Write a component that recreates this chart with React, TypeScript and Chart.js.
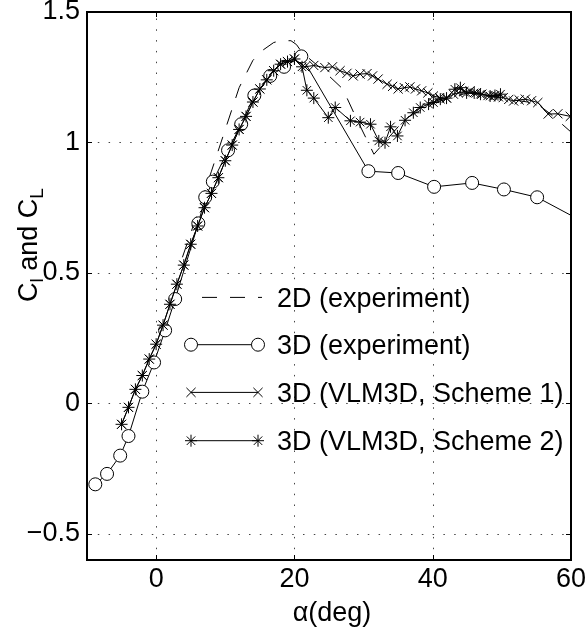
import React, { useEffect, useRef } from 'react';
import { Chart, registerables } from 'chart.js';

Chart.register(...registerables);

// ---------- data ----------
const alpha2D = [3.8, 6, 8, 10, 12, 14, 15.5, 17, 18, 19.5, 20.3, 21.1, 24, 27, 29, 31.5, 33, 36, 40, 45, 50, 55, 57, 60];
const cl2D = [0.56, 0.73, 0.89, 1.05, 1.21, 1.315, 1.355, 1.383, 1.39, 1.39, 1.375, 1.345, 1.28, 1.205, 1.09, 0.955, 1.0, 1.09, 1.15, 1.19, 1.17, 1.15, 1.11, 1.04];

const alpha3DExp = [-8.8, -7.1, -5.2, -4.0, -2.0, -0.3, 1.3, 2.75, 6.1, 7.1, 8.2, 10.4, 12.3, 14.2, 16.5, 18.5, 21.0, 30.7, 35, 40.2, 45.7, 50.3, 55.1, 65];
const cl3DExp = [-0.31, -0.27, -0.2, -0.125, 0.045, 0.157, 0.28, 0.4, 0.69, 0.79, 0.85, 0.97, 1.07, 1.18, 1.255, 1.29, 1.33, 0.89, 0.883, 0.83, 0.845, 0.82, 0.79, 0.65];

const alphaScheme1 = [-5, -4, -3, -2, -1, 0, 1, 2, 3, 4, 5, 6, 7, 8, 9, 10, 11, 12, 13, 14, 15, 16, 17, 18, 19, 20,
  21.5, 22.8, 24.4, 25.5, 26.6, 27.6, 28.5, 29.5, 30.5, 31.3, 32.1, 33.4, 34.2, 35, 35.9, 36.7, 37.5, 38.4, 39.3, 40.1,
  41, 42, 43, 43.7, 44.5, 45.4, 46.3, 47.1, 48, 48.8, 49.5, 50.2, 51, 51.7, 52.5, 53.4, 54.3, 55.2, 56.7, 58.1, 59.9, 61.2];
const clScheme1 = [-0.08, -0.015, 0.054, 0.107, 0.17, 0.227, 0.3, 0.38, 0.457, 0.53, 0.61, 0.68, 0.75, 0.805, 0.865, 0.93, 0.99, 1.05, 1.1, 1.155, 1.205, 1.24, 1.275, 1.3, 1.31, 1.32,
  1.29, 1.295, 1.287, 1.29, 1.275, 1.265, 1.255, 1.262, 1.264, 1.255, 1.243, 1.223, 1.215, 1.205, 1.21, 1.213, 1.205, 1.198, 1.19, 1.178,
  1.172, 1.17, 1.185, 1.19, 1.195, 1.198, 1.19, 1.185, 1.18, 1.178, 1.175, 1.172, 1.165, 1.159, 1.163, 1.166, 1.16, 1.153, 1.109, 1.11, 1.1, 1.09];

const alphaScheme2 = [-5, -4, -3, -2, -1, 0, 1, 2, 3, 4, 5, 6, 7, 8, 9, 10, 11, 12, 13, 14, 15, 16, 17, 18, 19, 20,
  21.1, 21.8, 22.8, 24.9, 25.9, 28.1, 29.5, 31, 32.2, 33.1, 33.9, 34.9, 36, 37.2, 38.2, 39.4, 40.1, 41.1, 42, 43.2, 44, 44.9, 46, 46.9, 48.3, 49, 49.8];
const clScheme2 = [-0.08, -0.015, 0.054, 0.107, 0.17, 0.227, 0.3, 0.38, 0.457, 0.53, 0.61, 0.68, 0.75, 0.805, 0.865, 0.93, 0.99, 1.05, 1.1, 1.155, 1.205, 1.24, 1.275, 1.3, 1.31, 1.32,
  1.29, 1.2, 1.17, 1.095, 1.134, 1.083, 1.078, 1.07, 1.006, 0.999, 1.06, 1.025, 1.085, 1.114, 1.134, 1.147, 1.153, 1.166, 1.17, 1.204, 1.21, 1.19, 1.19, 1.185, 1.178, 1.18, 1.185];

const seriesLabels = ['2D (experiment)', '3D (experiment)', '3D (VLM3D, Scheme 1)', '3D (VLM3D, Scheme 2)'];
const xTicks = [0, 20, 40, 60];
const yTicks = [-0.5, 0, 0.5, 1, 1.5];
const xRange = [-10, 60];
const yRange = [-0.6, 1.5];
const xTitle = 'α(deg)';
// y title pieces: [text, isSubscript]
const yTitleParts: [string, boolean][] = [['C', false], ['l', true], [' and C', false], ['L', true]];

const FONT = '"Liberation Sans", Arial, Helvetica, sans-serif';
const FS = 27;

const toPts = (xs: number[], ys: number[]) => xs.map((x, i) => ({ x, y: ys[i] }));

function drawMarker(ctx: CanvasRenderingContext2D, style: string, x: number, y: number, r: number) {
  ctx.beginPath();
  if (style === 'circle') {
    ctx.arc(x, y, r, 0, Math.PI * 2);
    ctx.fillStyle = '#fff';
    ctx.fill();
    ctx.stroke();
    return;
  }
  const d = Math.cos(Math.PI / 4) * r;
  if (style === 'crossRot' || style === 'star') {
    ctx.moveTo(x - d, y - d); ctx.lineTo(x + d, y + d);
    ctx.moveTo(x + d, y - d); ctx.lineTo(x - d, y + d);
  }
  if (style === 'star') {
    ctx.moveTo(x - r, y); ctx.lineTo(x + r, y);
    ctx.moveTo(x, y - r); ctx.lineTo(x, y + r);
  }
  ctx.stroke();
}

const matlabPlugin = {
  id: 'matlabStyle',
  beforeDatasetsDraw(chart: any) {
    const { ctx, chartArea: a, scales } = chart;
    const x = scales.x, y = scales.y;
    ctx.save();
    ctx.beginPath();
    ctx.rect(a.left, a.top, a.right - a.left, a.bottom - a.top);
    ctx.clip();
    ctx.strokeStyle = '#444';
    ctx.lineWidth = 1;
    ctx.setLineDash([1.5, 9.3]);
    for (const t of xTicks) {
      const px = Math.round(x.getPixelForValue(t)) + 0.5;
      ctx.beginPath(); ctx.moveTo(px, a.bottom); ctx.lineTo(px, a.top); ctx.stroke();
    }
    for (const t of yTicks) {
      const py = Math.round(y.getPixelForValue(t)) + 0.5;
      ctx.beginPath(); ctx.moveTo(a.left, py); ctx.lineTo(a.right, py); ctx.stroke();
    }
    ctx.restore();
  },
  afterDatasetsDraw(chart: any) {
    const { ctx, chartArea: a, scales } = chart;
    const x = scales.x, y = scales.y;
    ctx.save();
    // frame
    ctx.strokeStyle = '#000';
    ctx.lineWidth = 2;
    ctx.setLineDash([]);
    ctx.strokeRect(a.left, a.top, a.right - a.left, a.bottom - a.top);
    // inward ticks
    ctx.lineWidth = 1;
    const tl = 5;
    for (const t of xTicks) {
      const px = Math.round(x.getPixelForValue(t)) + 0.5;
      ctx.beginPath();
      ctx.moveTo(px, a.bottom); ctx.lineTo(px, a.bottom - tl);
      ctx.moveTo(px, a.top); ctx.lineTo(px, a.top + tl);
      ctx.stroke();
    }
    for (const t of yTicks) {
      const py = Math.round(y.getPixelForValue(t)) + 0.5;
      ctx.beginPath();
      ctx.moveTo(a.left, py); ctx.lineTo(a.left + tl, py);
      ctx.moveTo(a.right, py); ctx.lineTo(a.right - tl, py);
      ctx.stroke();
    }

    // legend
    const rowY = [297.4, 344.7, 392.4, 440.7];
    const lx0 = 191, lx1 = 258, tx = 277;
    chart.data.datasets.forEach((ds: any, i: number) => {
      const yy = rowY[i];
      ctx.save();
      ctx.strokeStyle = '#000';
      ctx.lineWidth = 1;
      if (ds.borderDash && ds.borderDash.length) {
        ctx.setLineDash(ds.borderDash);
        ctx.beginPath(); ctx.moveTo(202, yy); ctx.lineTo(262, yy); ctx.stroke();
        ctx.setLineDash([]);
      } else {
        ctx.beginPath(); ctx.moveTo(lx0, yy); ctx.lineTo(lx1, yy); ctx.stroke();
      }
      if (ds.pointRadius > 0) {
        drawMarker(ctx, ds.pointStyle, lx0, yy, ds.pointRadius);
        drawMarker(ctx, ds.pointStyle, lx1, yy, ds.pointRadius);
      }
      ctx.restore();
      ctx.fillStyle = '#000';
      ctx.font = `${FS}px ${FONT}`;
      ctx.textAlign = 'left';
      ctx.textBaseline = 'alphabetic';
      ctx.fillText(ds.label, tx, yy + 9.6);
    });

    // x title
    ctx.fillStyle = '#000';
    ctx.font = `${FS}px ${FONT}`;
    ctx.textAlign = 'center';
    ctx.textBaseline = 'alphabetic';
    ctx.fillText(xTitle, (a.left + a.right) / 2 + 3, 621);

    // y title (rotated, with subscripts)
    ctx.save();
    ctx.translate(37, 302);
    ctx.rotate(-Math.PI / 2);
    ctx.textAlign = 'left';
    let cx = 0;
    for (const [txt, sub] of yTitleParts) {
      ctx.font = `${sub ? 19 : FS}px ${FONT}`;
      ctx.fillText(txt, cx, sub ? 6 : 0);
      cx += ctx.measureText(txt).width;
    }
    ctx.restore();
    ctx.restore();
  },
};

export default function App() {
  const ref = useRef<HTMLCanvasElement>(null);
  useEffect(() => {
    if (!ref.current) return;
    const tickFont = { family: FONT, size: FS };
    const chart = new Chart(ref.current, {
      type: 'scatter',
      data: {
        datasets: [
          {
            label: seriesLabels[0], data: toPts(alpha2D, cl2D), showLine: true,
            borderColor: '#000', borderWidth: 1, borderDash: [15, 13], pointRadius: 0, order: 4,
          },
          {
            label: seriesLabels[1], data: toPts(alpha3DExp, cl3DExp), showLine: true,
            borderColor: '#000', borderWidth: 1, pointStyle: 'circle', pointRadius: 6.5,
            pointBackgroundColor: '#fff', pointBorderColor: '#000', pointBorderWidth: 1, order: 3,
          },
          {
            label: seriesLabels[2], data: toPts(alphaScheme1, clScheme1), showLine: true,
            borderColor: '#000', borderWidth: 1, pointStyle: 'crossRot', pointRadius: 6.5,
            pointBorderColor: '#000', pointBorderWidth: 1, order: 2,
          },
          {
            label: seriesLabels[3], data: toPts(alphaScheme2, clScheme2), showLine: true,
            borderColor: '#000', borderWidth: 1, pointStyle: 'star', pointRadius: 6,
            pointBorderColor: '#000', pointBorderWidth: 1, order: 1,
          },
        ] as any,
      },
      options: {
        animation: false,
        responsive: false,
        devicePixelRatio: 1,
        events: [],
        layout: { padding: { left: 0, top: 12, right: 14, bottom: 0 } },
        plugins: { legend: { display: false }, tooltip: { enabled: false }, title: { display: false } },
        scales: {
          x: {
            type: 'linear', min: xRange[0], max: xRange[1],
            grid: { display: false, drawTicks: false },
            border: { display: false },
            ticks: { font: tickFont, color: '#000', padding: 3, maxRotation: 0, autoSkip: false },
            afterBuildTicks: (s: any) => { s.ticks = xTicks.map((v) => ({ value: v })); },
            afterFit: (s: any) => { s.height = 72; s.paddingLeft = 0; s.paddingRight = 0; s.paddingTop = 0; s.paddingBottom = 0; },
          },
          y: {
            type: 'linear', min: yRange[0], max: yRange[1],
            grid: { display: false, drawTicks: false },
            border: { display: false },
            ticks: {
              font: tickFont, color: '#000', padding: 7, autoSkip: false,
              callback: (v: any) => String(v).replace('-', '\u2212'),
            },
            afterBuildTicks: (s: any) => { s.ticks = yTicks.map((v) => ({ value: v })); },
            afterFit: (s: any) => { s.width = 87; s.paddingLeft = 0; s.paddingRight = 0; s.paddingTop = 0; s.paddingBottom = 0; },
          },
        },
      } as any,
      plugins: [matlabPlugin],
    });
    return () => chart.destroy();
  }, []);
  return (
    <div style={{ position: 'absolute', left: 0, top: 0, width: 585, height: 632, background: '#fff' }}>
      <canvas ref={ref} width={585} height={632} style={{ display: 'block' }} />
    </div>
  );
}
